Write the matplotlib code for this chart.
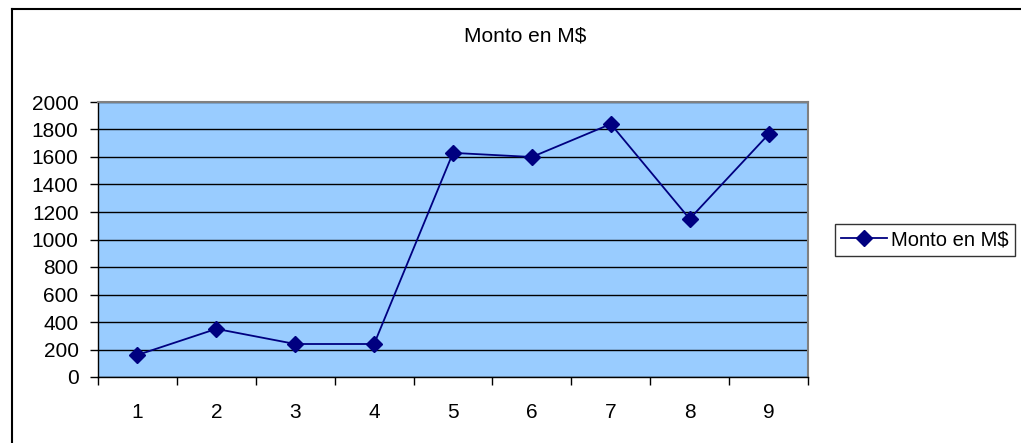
import matplotlib.pyplot as plt
from matplotlib.lines import Line2D

plt.rcParams['font.family'] = ['Liberation Sans', 'DejaVu Sans']

meses = [1, 2, 3, 4, 5, 6, 7, 8, 9]
monto = [160, 350, 240, 240, 1630, 1600, 1840, 1150, 1765]
yticks = [0, 200, 400, 600, 800, 1000, 1200, 1400, 1600, 1800, 2000]
titulo = "Monto en M$"

fig = plt.figure(figsize=(10.21, 4.43), dpi=100)
ax = fig.add_axes([98 / 1021, 1 - 377 / 443, 710 / 1021, 275 / 443])
ax.set_facecolor("#99ccff")

ax.plot(meses, monto, color="#000080", marker="D", markersize=8,
        linewidth=1.3, label=titulo)

ax.set_xlim(0.5, 9.5)
ax.set_ylim(0, 2000)
ax.set_yticks(yticks)
ax.set_xticks(meses)
ax.set_xticklabels([str(m) for m in meses])
ax.set_xticks([m + 0.5 for m in range(0, 10)], minor=True)
ax.tick_params(axis="x", which="major", length=0, pad=19, labelsize=15)
ax.tick_params(axis="x", which="minor", length=6, width=1, color="black")
ax.tick_params(axis="y", length=6, width=1, pad=8, labelsize=15)

ax.grid(axis="y", color="black", linewidth=1)
ax.set_axisbelow(True)
for s in ["top", "right"]:
    ax.spines[s].set_color("#808080")
    ax.spines[s].set_linewidth(1.5)
for s in ["left", "bottom"]:
    ax.spines[s].set_color("black")
    ax.spines[s].set_linewidth(1)

fig.text(525 / 1021, 1 - 36 / 443, titulo, ha="center", va="center", fontsize=15)

leg = ax.legend(loc="center left", bbox_to_anchor=(835 / 1021, 1 - 240 / 443),
                bbox_transform=fig.transFigure, frameon=True, fancybox=False,
                fontsize=14.5, handlelength=2.3, handletextpad=0.2,
                borderpad=0.3, borderaxespad=0)
leg.get_frame().set_edgecolor("black")
leg.get_frame().set_linewidth(1)

# marco del grafico (izquierda y arriba)
fig.add_artist(Line2D([12 / 1021, 12 / 1021], [0, 1 - 9 / 443],
                      transform=fig.transFigure, color="black", linewidth=1.5))
fig.add_artist(Line2D([12 / 1021, 1], [1 - 9 / 443, 1 - 9 / 443],
                      transform=fig.transFigure, color="black", linewidth=1.5))

fig.savefig("out.png", dpi=100)
